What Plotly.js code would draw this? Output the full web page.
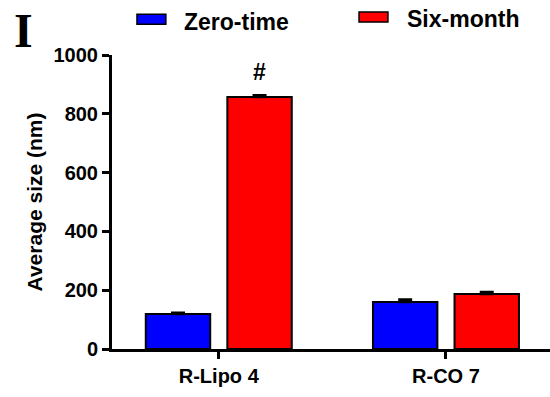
<!DOCTYPE html>
<html>
<head>
<meta charset="utf-8">
<script src="https://cdn.plot.ly/plotly-3.0.1.min.js"></script>
<style>html,body{margin:0;padding:0;background:#fff;}#chart{width:550px;height:397px;}</style>
</head>
<body>
<div id="chart"></div>
<script>
var categories = ["R-Lipo 4", "R-CO 7"];
var seriesNames = ["Zero-time", "Six-month"];
var zeroTime = [119, 160];
var zeroTimeErr = [4, 8];
var sixMonth = [857, 187];
var sixMonthErr = [6, 7];
var yTickVals = [0, 200, 400, 600, 800, 1000];
var sigLabels = ["#", ""];

var FONT = "Liberation Sans, Arial, sans-serif";

var traces = [
  {
    type: "bar", name: seriesNames[0], x: categories, y: zeroTime,
    marker: {color: "#0000ff", line: {color: "#000", width: 2}},
    error_y: {type: "data", array: zeroTimeErr, arrayminus: [0, 0], symmetric: false, color: "#000", thickness: 2.5, width: 7},
    showlegend: false
  },
  {
    type: "bar", name: seriesNames[1], x: categories, y: sixMonth,
    marker: {color: "#ff0000", line: {color: "#000", width: 2}},
    error_y: {type: "data", array: sixMonthErr, arrayminus: [0, 0], symmetric: false, color: "#000", thickness: 2.5, width: 7},
    showlegend: false
  }
];

var annotations = [];
sigLabels.forEach(function (t, i) {
  if (!t) return;
  annotations.push({
    x: i + 0.18, xref: "x", y: sixMonth[i] + sixMonthErr[i], yref: "y",
    text: "<b>" + t + "</b>", showarrow: false, yanchor: "bottom", yshift: 8,
    font: {family: FONT, size: 23, color: "#000"}
  });
});
// legend labels
annotations.push({
  x: 0.160, xref: "paper", y: 1.111, yref: "paper", xanchor: "left", yanchor: "middle",
  text: "<b>" + seriesNames[0] + "</b>", showarrow: false,
  font: {family: FONT, size: 23, color: "#000"}
});
annotations.push({
  x: 0.668, xref: "paper", y: 1.124, yref: "paper", xanchor: "left", yanchor: "middle",
  text: "<b>" + seriesNames[1] + "</b>", showarrow: false,
  font: {family: FONT, size: 23, color: "#000"}
});
// panel label
annotations.push({
  x: -0.203, xref: "paper", y: 1.085, yref: "paper", xanchor: "center", yanchor: "middle",
  text: "<b>I</b>", showarrow: false,
  font: {family: "Liberation Serif, Times New Roman, serif", size: 48, color: "#000"}
});

var shapes = [
  {type: "rect", xref: "paper", yref: "paper", x0: 0.057, x1: 0.123, y0: 1.105, y1: 1.139,
   fillcolor: "#0000ff", line: {color: "#000", width: 1.5}},
  {type: "rect", xref: "paper", yref: "paper", x0: 0.564, x1: 0.630, y0: 1.112, y1: 1.146,
   fillcolor: "#ff0000", line: {color: "#000", width: 1.5}}
];

var layout = {
  width: 550, height: 397,
  margin: {l: 112, r: 0, t: 55, b: 48},
  paper_bgcolor: "#fff", plot_bgcolor: "#fff",
  barmode: "group", bargap: 0.282, bargroupgap: 0.21,
  showlegend: false,
  xaxis: {
    type: "category", range: [-0.47, 1.458],
    showline: true, linecolor: "#000", linewidth: 3,
    ticks: "outside", ticklen: 7, tickwidth: 3, tickcolor: "#000",
    showgrid: false, zeroline: false,
    tickfont: {family: FONT, size: 20, color: "#000", weight: "bold"}
  },
  yaxis: {
    range: [0, 1000], tickvals: yTickVals,
    showline: true, linecolor: "#000", linewidth: 3,
    ticks: "outside", ticklen: 7, tickwidth: 3, tickcolor: "#000",
    showgrid: false, zeroline: false,
    tickfont: {family: FONT, size: 20, color: "#000", weight: "bold"},
    title: {text: "<b>Average size (nm)</b>", font: {family: FONT, size: 21, color: "#000"}, standoff: 6}
  },
  annotations: annotations,
  shapes: shapes
};

Plotly.newPlot("chart", traces, layout, {displayModeBar: false, staticPlot: true});
</script>
</body>
</html>
